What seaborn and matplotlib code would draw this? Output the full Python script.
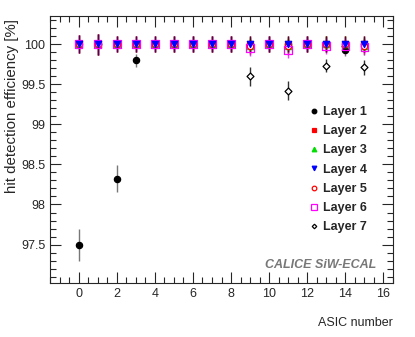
import numpy as np
import pandas as pd
import matplotlib
matplotlib.use("Agg")
import matplotlib.pyplot as plt
import seaborn as sns
from matplotlib.ticker import MultipleLocator

# ---- data ----
asic = list(range(16))

layer1_x = [0, 1, 2, 3, 5, 6, 7, 8, 9, 10, 11, 12, 13, 14, 15]
layer1_y = [97.50, 100.0, 98.32, 99.80, 100.0, 100.0, 100.0, 100.0, 100.0, 100.0, 100.0, 100.0, 100.0, 99.93, 100.0]
layer1_e = [0.20, 0.13, 0.17, 0.08, 0.10, 0.10, 0.10, 0.10, 0.10, 0.10, 0.10, 0.10, 0.10, 0.08, 0.10]

layer2_y = [100.0] * 16
layer3_y = [100.0] * 9 + [99.97, 100.0, 99.97, 100.0, 100.0, 100.0, 99.97]
layer4_y = [100.0] * 16
layer5_y = [100.0] * 9 + [99.98, 100.0, 99.98, 100.0, 100.0, 100.0, 99.98]
layer6_y = [100.0] * 9 + [99.95, 100.0, 99.93, 100.0, 99.98, 99.98, 99.96]
layer_err = [0.11, 0.13, 0.10, 0.10, 0.10, 0.10, 0.10, 0.10, 0.10, 0.10, 0.10, 0.10, 0.10, 0.10, 0.10, 0.10]

layer7_x = [9, 10, 11, 12, 13, 14, 15]
layer7_y = [99.60, 100.0, 99.42, 100.0, 99.73, 99.98, 99.71]
layer7_e = [0.12, 0.06, 0.12, 0.06, 0.08, 0.06, 0.09]

sns.set_style("ticks")
plt.rcParams["font.family"] = ["Liberation Sans", "DejaVu Sans"]

fig = plt.figure(figsize=(4.15, 3.37), dpi=100)
ax = fig.add_axes([0.1205, 0.160, 0.8265, 0.7925])

layers = [
    ("Layer 7", layer7_x, layer7_y, layer7_e, "D", "white", "black", "black", 3.5),
    ("Layer 1", layer1_x, layer1_y, layer1_e, "o", "black", "black", "#555555", 4.5),
    ("Layer 2", asic, layer2_y, layer_err, "s", "red", "red", "red", 4.5),
    ("Layer 3", asic, layer3_y, layer_err, "^", "#00dd00", "#00dd00", "#00dd00", 4.5),
    ("Layer 5", asic, layer5_y, layer_err, "o", "white", "red", "red", 4.5),
    ("Layer 6", asic, layer6_y, layer_err, "s", "none", "magenta", "magenta", 5.5),
    ("Layer 4", asic, layer4_y, layer_err, "v", "blue", "blue", "#220044", 4.5),
]

handles = {}
for name, xs, ys, es, mk, fc, ec, bc, ms in layers:
    ax.errorbar(xs, ys, yerr=es, fmt="none", ecolor=bc, elinewidth=1.0, capsize=0, alpha=0.8)
    df = pd.DataFrame({"x": xs, "y": ys})
    sns.scatterplot(data=df, x="x", y="y", marker=mk, s=ms ** 2, color=fc,
                    edgecolor=ec, linewidth=0.9, ax=ax, zorder=3)
    handles[name] = plt.Line2D([], [], ls="none", marker=mk, markersize=ms - 1.2,
                               markerfacecolor=fc, markeredgecolor=ec, markeredgewidth=0.9)

order = ["Layer 1", "Layer 2", "Layer 3", "Layer 4", "Layer 5", "Layer 6", "Layer 7"]
ax.legend([handles[n] for n in order], order, loc="upper left",
          bbox_to_anchor=(0.74, 0.682), frameon=False, handlelength=0.8,
          handletextpad=0.3, labelspacing=0.58, borderaxespad=0,
          prop={"weight": "bold", "size": 9})

ax.set_xlim(-1.5, 16.5)
ax.set_ylim(97.02, 100.35)
ax.xaxis.set_major_locator(MultipleLocator(2))
ax.xaxis.set_minor_locator(MultipleLocator(0.5))
ax.yaxis.set_major_locator(MultipleLocator(0.5))
ax.yaxis.set_minor_locator(MultipleLocator(0.1))
ax.tick_params(which="both", direction="in", top=True, right=True, labelsize=9, width=0.8)
ax.tick_params(which="major", length=8)
ax.tick_params(which="minor", length=4)
ax.set_yticks([97.5, 98, 98.5, 99, 99.5, 100])
ax.set_yticklabels(["97.5", "98", "98.5", "99", "99.5", "100"])
for sp in ax.spines.values():
    sp.set_linewidth(0.8)

ax.set_xlabel("ASIC number", fontsize=9, loc="right", labelpad=12)
ax.set_ylabel("hit detection efficiency [%]", fontsize=10.8, loc="top", labelpad=3)
ax.yaxis.set_label_coords(-0.09, 0.99)

ax.text(0.95, 0.045, "CALICE SiW-ECAL", transform=ax.transAxes, ha="right", va="bottom",
        fontsize=9, fontweight="bold", fontstyle="italic", color="#777777")

fig.savefig("out.png", dpi=100)
